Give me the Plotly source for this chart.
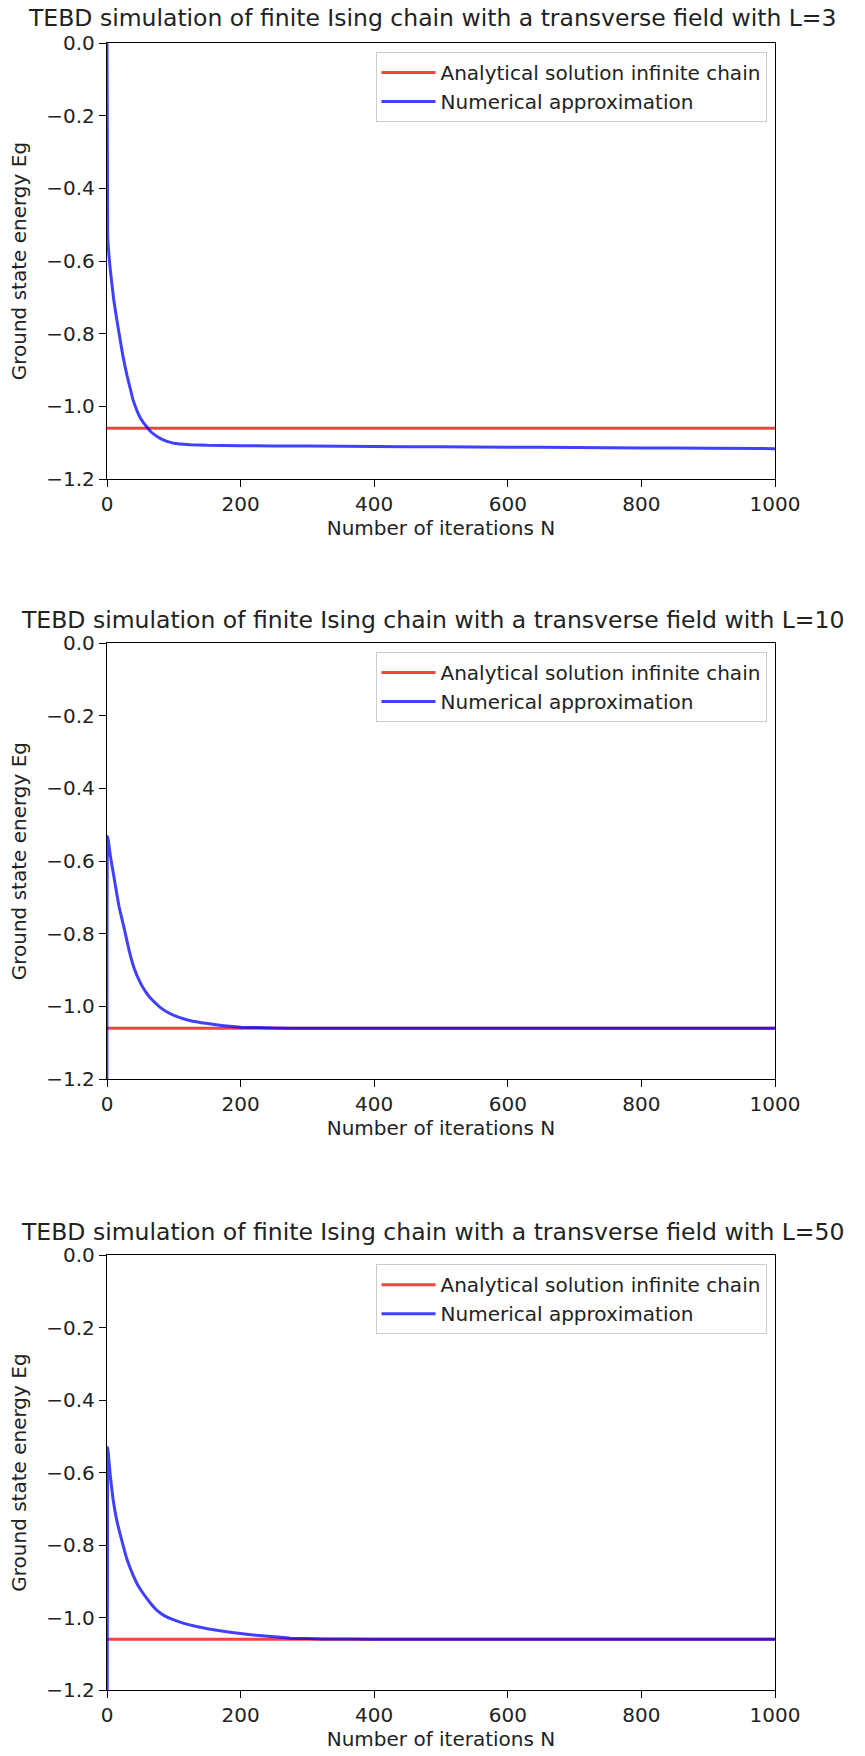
import plotly.graph_objects as go

# ---------------- data ----------------
titles = [
    "TEBD simulation of finite Ising chain with a transverse field with L=3",
    "TEBD simulation of finite Ising chain with a transverse field with L=10",
    "TEBD simulation of finite Ising chain with a transverse field with L=50",
]

analytic_energy = -1.06
x_range = [0, 1000]

n_L3 = [0, 1, 5, 10, 14, 20, 24, 30, 35, 39, 45, 50, 55, 59, 65, 70, 79, 90, 100,
        124, 150, 199, 300, 400, 500, 600, 700, 800, 900, 1000]
e_L3 = [0.0, -0.533, -0.625, -0.705, -0.753, -0.82, -0.863, -0.915, -0.952, -0.982,
        -1.012, -1.032, -1.046, -1.055, -1.068, -1.076, -1.087, -1.096, -1.101,
        -1.105, -1.107, -1.108, -1.109, -1.110, -1.111, -1.112, -1.113, -1.114,
        -1.115, -1.116]

n_L10 = [0, 1, 5, 11, 18, 26, 33, 41, 50, 58, 66, 80, 90, 101, 125, 151, 175, 201,
         251, 300, 400, 600, 800, 1000]
e_L10 = [-1.5, -0.532, -0.585, -0.650, -0.725, -0.787, -0.845, -0.897, -0.935,
         -0.960, -0.979, -1.003, -1.015, -1.025, -1.039, -1.047, -1.053, -1.057,
         -1.059, -1.060, -1.060, -1.060, -1.060, -1.060]

n_L50 = [0, 1, 5, 9, 15, 24, 30, 39, 46, 54, 64, 74, 85, 99, 115, 134, 150, 174,
         200, 224, 250, 274, 300, 324, 400, 600, 800, 1000]
e_L50 = [-1.5, -0.531, -0.610, -0.672, -0.735, -0.800, -0.840, -0.883, -0.910,
         -0.933, -0.958, -0.979, -0.994, -1.006, -1.016, -1.025, -1.031, -1.038,
         -1.044, -1.049, -1.053, -1.057, -1.058, -1.059, -1.060, -1.060, -1.060,
         -1.060]

x_ticks = [0, 200, 400, 600, 800, 1000]
y_ticks = [0.0, -0.2, -0.4, -0.6, -0.8, -1.0, -1.2]

series_n = [n_L3, n_L10, n_L50]
series_e = [e_L3, e_L10, e_L50]

# ---------------- layout geometry (pixels, page coordinates) ----------------
W, H = 865, 1756
x_left, x_right = 107, 775.5
area_top, area_bot = 42.5, 1690.0
panels_px = [(42.5, 478.8), (642.7, 1079.0), (1255.0, 1690.0)]  # (top, bottom)
title_y_px = [17, 620, 1232]
Hp = area_bot - area_top
Wp = x_right - x_left

FONT = "DejaVu Sans"
TXT = "#222222"
RED = "rgba(255,0,0,0.75)"
BLUE = "rgba(0,0,255,0.75)"
FS = 20

fig = go.Figure()
layout = dict(
    width=W, height=H,
    margin=dict(l=x_left, r=W - x_right, t=area_top, b=H - area_bot, autoexpand=False),
    paper_bgcolor="white", plot_bgcolor="white",
    font=dict(family=FONT, size=FS, color=TXT),
    showlegend=True,
    annotations=[],
)


def px_to_paper_x(px):
    return (px - x_left) / Wp


def px_to_paper_y(py):
    return (area_bot - py) / Hp


for i in range(3):
    k = "" if i == 0 else str(i + 1)
    xa, ya = "x" + k, "y" + k
    leg = "legend" + k
    fig.add_trace(go.Scatter(
        x=x_range, y=[analytic_energy, analytic_energy], mode="lines",
        line=dict(color=RED, width=3), name="Analytical solution infinite chain",
        xaxis=xa, yaxis=ya, legend=leg, legendgroup="a%d" % i))
    fig.add_trace(go.Scatter(
        x=series_n[i], y=series_e[i], mode="lines",
        line=dict(color=BLUE, width=3, shape="spline", smoothing=0.3),
        name="Numerical approximation",
        xaxis=xa, yaxis=ya, legend=leg, legendgroup="b%d" % i))

    top, bot = panels_px[i]
    dom_y = [px_to_paper_y(bot), px_to_paper_y(top)]
    common = dict(showline=True, linecolor="black", linewidth=1.3, mirror=True,
                  ticks="outside", ticklen=7, tickwidth=1.3, tickcolor="black",
                  showgrid=False, zeroline=False, automargin=True,
                  tickfont=dict(family=FONT, size=FS, color=TXT))
    layout["xaxis" + k] = dict(
        common, domain=[0, 1], range=x_range, tickvals=x_ticks,
        anchor=ya, title=dict(text="Number of iterations N", standoff=3,
                              font=dict(size=FS)))
    layout["yaxis" + k] = dict(
        common, domain=dom_y, range=[-1.2, 0], tickvals=y_ticks, tickformat=".1f",
        anchor=xa, title=dict(text="Ground state energy Eg", standoff=14,
                              font=dict(size=FS)))
    layout[leg] = dict(
        x=px_to_paper_x(767), y=px_to_paper_y(top + 9), xanchor="right",
        yanchor="top", bgcolor="white", bordercolor="#cccccc", borderwidth=1,
        font=dict(family=FONT, size=FS, color=TXT), itemwidth=54,
        tracegroupgap=0, traceorder="grouped")
    layout["annotations"].append(dict(
        text=titles[i], x=px_to_paper_x(432.5), y=px_to_paper_y(title_y_px[i]),
        xref="paper", yref="paper", xanchor="center", yanchor="middle",
        showarrow=False, font=dict(family=FONT, size=23.5, color=TXT)))

fig.update_layout(**layout)
# remove the default 8px page margin so the figure fills the window exactly
fig.write_html("out.html", config={"displayModeBar": False},
               post_script="document.body.style.margin='0';")
